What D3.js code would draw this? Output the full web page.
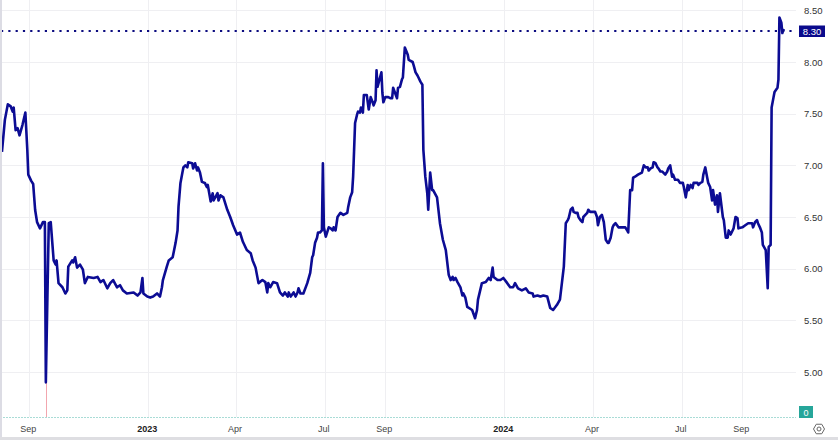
<!DOCTYPE html>
<html>
<head>
<meta charset="utf-8">
<script src="https://cdn.jsdelivr.net/npm/d3@7"></script>
<style>
    body { margin:0; background:#fff; }
    text { font-family: "Liberation Sans", Arial, sans-serif; }
    .grid { stroke:#efeff2; stroke-width:1px; }
    .price { fill:none; stroke:#0c0c94; stroke-width:2.6px; stroke-linejoin:round; }
</style>
</head>
<body>
<div id="chart"></div>
<script>

// series
var dates = [
 "2022-08-04","2022-08-07","2022-08-10","2022-08-13","2022-08-15","2022-08-16","2022-08-18","2022-08-20","2022-08-22","2022-08-25",
 "2022-08-28","2022-08-30","2022-08-31","2022-09-03","2022-09-05","2022-09-07","2022-09-09","2022-09-12","2022-09-15","2022-09-17",
 "2022-09-18","2022-09-21","2022-09-23","2022-09-26","2022-09-28","2022-09-29","2022-10-01","2022-10-05","2022-10-08","2022-10-10",
 "2022-10-11","2022-10-15","2022-10-16","2022-10-18","2022-10-20","2022-10-23","2022-10-26","2022-10-28","2022-10-31","2022-11-06",
 "2022-11-10","2022-11-13","2022-11-16","2022-11-20","2022-11-23","2022-11-26","2022-11-30","2022-12-03","2022-12-06","2022-12-10",
 "2022-12-17","2022-12-21","2022-12-24","2022-12-26","2022-12-27","2022-12-31","2023-01-03","2023-01-06","2023-01-10","2023-01-13",
 "2023-01-15","2023-01-16","2023-01-20","2023-01-22","2023-01-26","2023-01-29","2023-01-31","2023-02-01","2023-02-03","2023-02-05",
 "2023-02-06","2023-02-08","2023-02-10","2023-02-11","2023-02-15","2023-02-16","2023-02-18","2023-02-20","2023-02-21","2023-02-23",
 "2023-02-25","2023-02-28","2023-03-02","2023-03-03","2023-03-06","2023-03-08","2023-03-09","2023-03-13","2023-03-14","2023-03-16",
 "2023-03-19","2023-03-23","2023-03-26","2023-03-29","2023-04-02","2023-04-05","2023-04-08","2023-04-12","2023-04-16","2023-04-18",
 "2023-04-21","2023-04-24","2023-04-28","2023-05-01","2023-05-03","2023-05-04","2023-05-06","2023-05-09","2023-05-13","2023-05-16",
 "2023-05-19","2023-05-21","2023-05-24","2023-05-25","2023-05-27","2023-05-30","2023-06-01","2023-06-03","2023-06-04","2023-06-06",
 "2023-06-09","2023-06-13","2023-06-16","2023-06-18","2023-06-19","2023-06-21","2023-06-23","2023-06-24","2023-06-26","2023-06-28",
 "2023-06-29","2023-06-30","2023-07-02","2023-07-05","2023-07-07","2023-07-09","2023-07-10","2023-07-12","2023-07-14","2023-07-17",
 "2023-07-20","2023-07-24","2023-07-25","2023-07-27","2023-07-29","2023-07-30","2023-07-31","2023-08-01","2023-08-03","2023-08-04",
 "2023-08-06","2023-08-07","2023-08-09","2023-08-10","2023-08-13","2023-08-15","2023-08-17","2023-08-19","2023-08-20","2023-08-22",
 "2023-08-23","2023-08-24","2023-08-26","2023-08-28","2023-08-29","2023-08-30","2023-09-01","2023-09-04","2023-09-06","2023-09-08",
 "2023-09-09","2023-09-11","2023-09-13","2023-09-14","2023-09-16","2023-09-18","2023-09-19","2023-09-21","2023-09-24","2023-09-25",
 "2023-09-29","2023-09-30","2023-10-02","2023-10-04","2023-10-05","2023-10-07","2023-10-09","2023-10-10","2023-10-12","2023-10-14",
 "2023-10-15","2023-10-17","2023-10-19","2023-10-20","2023-10-24","2023-10-27","2023-10-30","2023-11-02","2023-11-04","2023-11-05",
 "2023-11-07","2023-11-09","2023-11-10","2023-11-12","2023-11-14","2023-11-17","2023-11-19","2023-11-20","2023-11-22","2023-11-24",
 "2023-11-29","2023-12-02","2023-12-04","2023-12-05","2023-12-09","2023-12-13","2023-12-16","2023-12-18","2023-12-20","2023-12-21",
 "2023-12-25","2023-12-28","2023-12-31","2024-01-04","2024-01-07","2024-01-10","2024-01-12","2024-01-15","2024-01-19","2024-01-23",
 "2024-01-26","2024-01-30","2024-01-31","2024-02-04","2024-02-07","2024-02-10","2024-02-14","2024-02-17","2024-02-20","2024-02-24",
 "2024-02-27","2024-02-29","2024-03-02","2024-03-04","2024-03-06","2024-03-07","2024-03-09","2024-03-11","2024-03-12","2024-03-14",
 "2024-03-16","2024-03-17","2024-03-19","2024-03-21","2024-03-22","2024-03-24","2024-03-26","2024-03-27","2024-03-29","2024-04-01",
 "2024-04-03","2024-04-05","2024-04-06","2024-04-08","2024-04-10","2024-04-12","2024-04-14","2024-04-16","2024-04-17","2024-04-19",
 "2024-04-21","2024-04-22","2024-04-24","2024-04-27","2024-05-01","2024-05-04","2024-05-06","2024-05-07","2024-05-09","2024-05-11",
 "2024-05-12","2024-05-14","2024-05-17","2024-05-21","2024-05-23","2024-05-25","2024-05-27","2024-05-28","2024-05-30","2024-06-01",
 "2024-06-02","2024-06-04","2024-06-06","2024-06-07","2024-06-09","2024-06-11","2024-06-12","2024-06-14","2024-06-16","2024-06-17",
 "2024-06-19","2024-06-21","2024-06-22","2024-06-24","2024-06-27","2024-06-29","2024-07-02","2024-07-03","2024-07-05","2024-07-07",
 "2024-07-08","2024-07-10","2024-07-12","2024-07-13","2024-07-17","2024-07-18","2024-07-20","2024-07-22","2024-07-23","2024-07-25",
 "2024-07-27","2024-07-28","2024-07-30","2024-08-01","2024-08-02","2024-08-04","2024-08-06","2024-08-07","2024-08-09","2024-08-12",
 "2024-08-13","2024-08-15","2024-08-17","2024-08-18","2024-08-20","2024-08-22","2024-08-23","2024-08-25","2024-08-27","2024-08-28",
 "2024-09-01","2024-09-04","2024-09-07","2024-09-11","2024-09-12","2024-09-14","2024-09-16","2024-09-17","2024-09-19","2024-09-21",
 "2024-09-22","2024-09-25","2024-09-27","2024-09-28","2024-09-30","2024-10-01","2024-10-03","2024-10-04","2024-10-07","2024-10-08",
 "2024-10-09","2024-10-11","2024-10-12","2024-10-13","2024-10-14"
];
var values = [
 7.13,7.44,7.59,7.57,7.52,7.56,7.34,7.36,7.29,7.39,
 7.51,7.15,6.91,6.85,6.82,6.57,6.45,6.39,6.45,6.45,
 4.90,6.44,6.45,6.08,6.04,6.08,5.86,5.82,5.76,5.79,
 6.02,6.08,6.06,6.11,6.01,6.04,5.99,5.86,5.92,5.91,
 5.92,5.87,5.89,5.81,5.86,5.89,5.82,5.84,5.79,5.76,
 5.77,5.74,5.77,5.91,5.76,5.73,5.72,5.73,5.76,5.73,
 5.82,5.89,6.02,6.08,6.11,6.25,6.37,6.60,6.83,6.93,
 6.98,7.00,6.98,7.03,7.02,6.97,7.02,6.95,6.98,6.93,
 6.84,6.83,6.79,6.81,6.65,6.73,6.66,6.73,6.66,6.71,
 6.69,6.57,6.50,6.42,6.33,6.35,6.26,6.18,6.15,6.08,
 6.01,5.86,5.89,5.87,5.77,5.86,5.82,5.87,5.86,5.77,
 5.74,5.77,5.73,5.77,5.73,5.77,5.73,5.77,5.81,5.76,
 5.76,5.86,5.96,6.11,6.13,6.25,6.30,6.35,6.35,6.37,
 7.02,6.40,6.31,6.40,6.39,6.37,6.40,6.37,6.50,6.54,
 6.52,6.54,6.60,6.69,6.74,6.89,7.15,7.41,7.49,7.52,
 7.51,7.56,7.51,7.68,7.68,7.54,7.66,7.61,7.58,7.63,
 7.92,7.76,7.83,7.90,7.70,7.61,7.66,7.66,7.65,7.65,
 7.75,7.70,7.65,7.75,7.76,7.83,7.85,8.14,8.07,8.02,
 8.00,7.97,7.90,7.87,7.85,7.81,7.78,7.15,6.89,6.73,
 6.57,6.93,6.76,6.76,6.69,6.44,6.28,6.18,6.02,5.94,
 5.89,5.92,5.89,5.91,5.87,5.82,5.74,5.76,5.72,5.63,
 5.60,5.52,5.60,5.70,5.86,5.87,5.91,5.89,6.01,5.92,
 5.89,5.89,5.91,5.86,5.82,5.82,5.86,5.81,5.79,5.81,
 5.77,5.76,5.73,5.74,5.73,5.74,5.73,5.62,5.60,5.65,
 5.70,5.86,6.02,6.44,6.47,6.49,6.57,6.59,6.55,6.54,
 6.54,6.50,6.47,6.45,6.50,6.52,6.54,6.57,6.55,6.55,
 6.55,6.50,6.42,6.50,6.52,6.45,6.28,6.25,6.25,6.30,
 6.40,6.42,6.44,6.40,6.40,6.40,6.37,6.35,6.76,6.76,
 6.88,6.89,6.91,6.93,7.00,6.98,6.98,6.95,6.97,6.98,
 7.03,7.02,6.98,6.97,6.94,6.94,6.93,6.91,6.94,6.97,
 7.00,6.89,6.91,6.86,6.86,6.83,6.83,6.79,6.69,6.81,
 6.76,6.81,6.78,6.83,6.83,6.81,6.83,6.84,6.91,6.98,
 6.88,6.83,6.79,6.66,6.76,6.62,6.71,6.55,6.73,6.50,
 6.47,6.30,6.30,6.37,6.33,6.37,6.39,6.50,6.49,6.39,
 6.40,6.42,6.44,6.44,6.40,6.45,6.47,6.44,6.40,6.35,
 6.23,6.18,5.81,6.21,6.23,7.56,7.66,7.71,7.75,7.83,
 8.43,8.38,8.28,8.31,8.30
];

var priceTicks = [5.0, 5.5, 6.0, 6.5, 7.0, 7.5, 8.0, 8.5];
var timeTicks = ["2022-09-01","2023-01-01","2023-04-01","2023-07-01","2023-09-01","2024-01-01","2024-04-01","2024-07-01","2024-09-01"];
var timeLabels = ["Sep","2023","Apr","Jul","Sep","2024","Apr","Jul","Sep"];
var lastValue = 8.30;
var volumeLabel = "0";

var width = 838, height = 440;
var plotRight = 796, zeroY = 417;

var parse = d3.timeParse("%Y-%m-%d");
var data = dates.map(function(d, i){ return {date: parse(d), value: values[i]}; });

var x = d3.scaleTime()
    .domain([parse("2022-08-02"), parse("2024-10-26")])
    .range([0, plotRight]);
var y = d3.scaleLinear().domain([5, 8]).range([372, 62]);

var svg = d3.select("#chart").append("svg")
    .attr("width", width).attr("height", height);

// grid
svg.append("g").selectAll("line.h")
    .data(priceTicks).enter().append("line")
    .attr("class","grid")
    .attr("x1", 0).attr("x2", plotRight)
    .attr("y1", d => Math.round(y(d)) + 0.5).attr("y2", d => Math.round(y(d)) + 0.5);

svg.append("g").selectAll("line.v")
    .data(timeTicks).enter().append("line")
    .attr("class","grid")
    .attr("x1", d => Math.round(x(parse(d))) + 0.5).attr("x2", d => Math.round(x(parse(d))) + 0.5)
    .attr("y1", 0).attr("y2", zeroY);

// volume zero line
svg.append("line")
    .attr("x1", 0).attr("x2", plotRight)
    .attr("y1", zeroY + 0.5).attr("y2", zeroY + 0.5)
    .attr("stroke", "#a9dcd6").attr("stroke-width", 1)
    .attr("stroke-dasharray", "2,1");

// the thin pink stick under the September 2022 drop
var minPt = d3.least(data, d => d.value);
svg.append("line")
    .attr("x1", Math.round(x(minPt.date)) + 0.5).attr("x2", Math.round(x(minPt.date)) + 0.5)
    .attr("y1", y(minPt.value)).attr("y2", zeroY)
    .attr("stroke", "#f2a6ae").attr("stroke-width", 1);

// price line
var line = d3.line().x(d => x(d.date)).y(d => y(d.value));
svg.append("path").datum(data).attr("class","price").attr("d", line);

// last value dotted line
svg.append("line")
    .attr("x1", 1).attr("x2", plotRight)
    .attr("y1", y(lastValue)).attr("y2", y(lastValue))
    .attr("stroke", "#0c0c80").attr("stroke-width", 2.2)
    .attr("stroke-dasharray", "2.2,5.1");

// price scale labels
svg.append("g").selectAll("text")
    .data(priceTicks).enter().append("text")
    .attr("x", 804).attr("y", d => y(d) + 3.5)
    .attr("font-size", "9.5px").attr("fill", "#333")
    .text(d => d3.format(".2f")(d));

svg.append("rect")
    .attr("x", 799).attr("y", y(lastValue) - 5.5)
    .attr("width", 26).attr("height", 11.5)
    .attr("fill", "#0a0a8c");
svg.append("text")
    .attr("x", 812).attr("y", y(lastValue) + 3.5)
    .attr("text-anchor", "middle")
    .attr("font-size", "9.5px").attr("fill", "#fff")
    .text(d3.format(".2f")(lastValue));

// volume label
svg.append("rect")
    .attr("x", 799).attr("y", 406).attr("width", 14).attr("height", 12)
    .attr("fill", "#26a69a");
svg.append("text")
    .attr("x", 806).attr("y", 415.5).attr("text-anchor", "middle")
    .attr("font-size", "9px").attr("fill", "#fff")
    .text(volumeLabel);

// time labels
svg.append("g").selectAll("text")
    .data(timeTicks).enter().append("text")
    .attr("x", d => x(parse(d)) - 1)
    .attr("y", 432)
    .attr("text-anchor", "middle")
    .attr("font-size", "9px")
    .attr("fill", (d, i) => /^\d{4}$/.test(timeLabels[i]) ? "#222" : "#444")
    .attr("font-weight", (d, i) => /^\d{4}$/.test(timeLabels[i]) ? "bold" : "normal")
    .text((d, i) => timeLabels[i]);

// settings icon
var gear = svg.append("g").attr("transform", "translate(819,429)");
gear.append("path")
    .attr("d", d3.range(6).map(function(i){
        var a = Math.PI / 3 * i;
        return (i ? "L" : "M") + (5.5 * Math.cos(a)).toFixed(2) + "," + (5.5 * Math.sin(a)).toFixed(2);
    }).join("") + "Z")
    .attr("fill", "none").attr("stroke", "#666").attr("stroke-width", 1);
gear.append("circle").attr("r", 2).attr("fill", "none").attr("stroke", "#666").attr("stroke-width", 1);

// frame edges
svg.append("rect").attr("x", 0).attr("y", 0).attr("width", 2).attr("height", height).attr("fill", "#dcdce4");
svg.append("rect").attr("x", 0).attr("y", 437).attr("width", width).attr("height", 3).attr("fill", "#dedee2");

</script>
</body>
</html>
